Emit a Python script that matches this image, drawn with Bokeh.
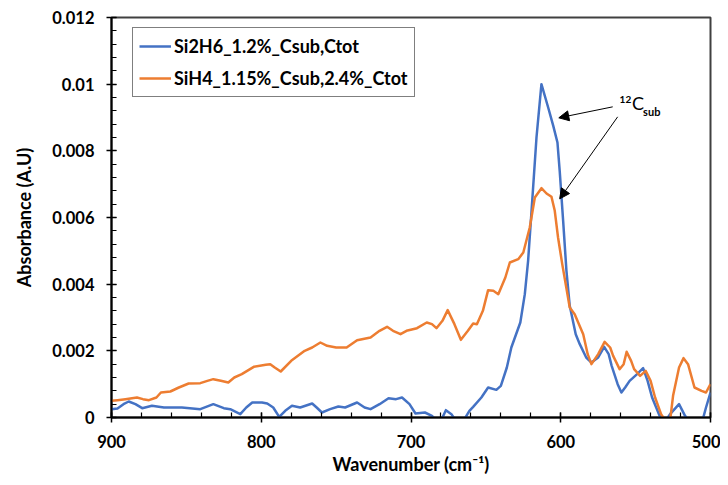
from bokeh.plotting import figure
from bokeh.models import Range1d, FixedTicker, Legend, LegendItem, Label, Arrow, NormalHead
from bokeh.embed import file_html
from bokeh.resources import INLINE

# Si2H6 sample (blue)
si2h6_wn = [900, 896, 892, 888.5, 884, 879.5, 873, 865, 853, 840.7, 832, 825, 820.7, 814, 810,
            806, 799.5, 796, 792, 788, 784, 779.5, 774, 766, 763, 759.5, 754, 748.5, 744, 736,
            731, 727, 721, 715, 710, 706, 701, 697, 690.7, 686, 683, 680, 676.7, 673, 670, 665,
            661, 658.5, 653, 648.5, 643, 640, 636, 633, 627, 624, 621.8, 619.5, 616.2, 612.9,
            608.4, 605, 602.2, 600.7, 598.4, 596.2, 594, 590, 587.3, 583, 579.5, 575, 571, 568,
            566, 562, 559.5, 557, 554, 549, 545, 542, 539, 534, 530, 527, 521, 517, 513, 506,
            503, 500]
si2h6_abs = [0.00025, 0.00027, 0.0004, 0.00048, 0.0004, 0.00028, 0.00035, 0.0003, 0.0003, 0.00025,
             0.0004, 0.00028, 0.00025, 0.0001, 0.0003, 0.00045, 0.00045, 0.00042, 0.0003, 0.00002,
             0.0002, 0.00035, 0.0003, 0.00042, 0.0003, 0.00015, 0.00025, 0.00033, 0.0003, 0.00045,
             0.0003, 0.00025, 0.0004, 0.00058, 0.00055, 0.0006, 0.0004, 0.00012, 0.00015, 0.00005,
             -0.0001, -0.0001, 0.00022, 0.0001, -0.0001, -0.0001, 0.0002, 0.00032, 0.0006, 0.0009,
             0.00083, 0.00095, 0.0015, 0.0021, 0.00285, 0.0037, 0.0047, 0.0062, 0.0084, 0.0100,
             0.0093, 0.00875, 0.00825, 0.0074, 0.0059, 0.0044, 0.00335, 0.0025, 0.0022, 0.0018,
             0.00165, 0.0018, 0.00212, 0.0019, 0.00155, 0.0010, 0.00075, 0.0009, 0.0011, 0.0013,
             0.00148, 0.0011, 0.0006, 0.00005, -0.0001, 0.0001, 0.0004, 0.00005, -0.0002, -0.0002,
             0.0003, 0.00075]

# SiH4 sample (orange)
sih4_wn = [900, 896, 890.7, 883, 879, 875, 870, 867, 860.7, 855, 848.5, 840.7, 836, 832, 827,
           822, 818, 813, 805, 797, 794, 791, 787, 780, 771, 766, 760.5, 756, 750, 743, 736,
           727, 721, 716, 712, 707, 703, 696, 689.5, 686, 683, 679, 675.5, 671, 666.7, 662,
           658.5, 656, 652, 648.5, 645, 641.7, 637, 634, 628.4, 625, 620.7, 617.3, 612.9, 609.5,
           606.2, 604, 601.8, 599, 594, 590.7, 585, 582, 579.5, 575, 570.7, 567, 565, 560.7,
           558, 556, 553, 551, 547, 543.3, 540, 537, 533, 530, 527, 525, 521, 518, 515, 510.7,
           506, 503, 500]
sih4_abs = [0.0005, 0.00052, 0.00055, 0.0006, 0.00055, 0.00052, 0.0006, 0.00075, 0.00078, 0.0009,
            0.00102, 0.00103, 0.0011, 0.00115, 0.0011, 0.00105, 0.0012, 0.0013, 0.00152, 0.00158,
            0.0016, 0.0015, 0.00138, 0.0017, 0.0020, 0.0021, 0.00225, 0.00215, 0.0021, 0.0021,
            0.00232, 0.0024, 0.0026, 0.00272, 0.0026, 0.0025, 0.0026, 0.00268, 0.00285, 0.0028,
            0.00268, 0.0029, 0.00322, 0.0028, 0.00233, 0.0026, 0.00282, 0.0028, 0.0032, 0.00382,
            0.0038, 0.0037, 0.0042, 0.00465, 0.00475, 0.00495, 0.0057, 0.0066, 0.00688, 0.00672,
            0.00662, 0.0062, 0.0054, 0.0046, 0.0033, 0.0031, 0.0025, 0.0019, 0.0016, 0.0019,
            0.00227, 0.0021, 0.00185, 0.00145, 0.0016, 0.00197, 0.0017, 0.00145, 0.00125, 0.0014,
            0.0011, 0.0006, 0.0001, -0.0001, -0.0001, 0.00065, 0.0015, 0.00178, 0.0016, 0.0009,
            0.0008, 0.00075, 0.0010]

x_ticks = [900, 800, 700, 600, 500]
y_ticks = [0, 0.002, 0.004, 0.006, 0.008, 0.01, 0.012]
y_tick_labels = ["0", "0.002", "0.004", "0.006", "0.008", "0.01", "0.012"]

FONT = "Lato"
BLUE = "#4472C4"
ORANGE = "#ED7D31"

p = figure(width=720, height=477, x_range=Range1d(900, 500), y_range=Range1d(0, 0.012),
           output_backend="svg", toolbar_location=None,
           min_border_left=111, min_border_right=10, min_border_top=17, min_border_bottom=60)
p.grid.visible = False
p.outline_line_color = "#404040"
p.outline_line_width = 2
p.background_fill_color = "white"
p.border_fill_color = "white"

r1 = p.line(si2h6_wn, si2h6_abs, color=BLUE, line_width=2.5, line_join="round")
r2 = p.line(sih4_wn, sih4_abs, color=ORANGE, line_width=2.5, line_join="round")

p.xaxis.ticker = FixedTicker(ticks=x_ticks, minor_ticks=list(range(500, 901, 20)))
p.yaxis.ticker = FixedTicker(ticks=y_ticks, minor_ticks=[i * 0.0004 for i in range(31)])
p.yaxis.major_label_overrides = {t: s for t, s in zip(y_ticks, y_tick_labels)}

for ax in (p.xaxis, p.yaxis):
    ax.axis_line_color = "black"
    ax.axis_line_width = 2
    ax.major_tick_line_color = "black"
    ax.major_tick_line_width = 1.5
    ax.minor_tick_line_color = "black"
    ax.minor_tick_line_width = 1.2
    ax.major_tick_in = 5
    ax.major_tick_out = 5
    ax.minor_tick_in = 5
    ax.minor_tick_out = 0
    ax.major_label_text_font = FONT
    ax.major_label_text_font_style = "bold"
    ax.major_label_text_font_size = "16.5px"
    ax.major_label_text_color = "black"
    ax.axis_label_text_font = FONT
    ax.axis_label_text_font_style = "bold"
    ax.axis_label_text_font_size = "18px"
    ax.axis_label_text_color = "black"

p.xaxis.axis_label = "Wavenumber (cm⁻¹)"
p.yaxis.axis_label = "Absorbance (A.U)"
p.xaxis.major_label_standoff = 12
p.xaxis.axis_label_standoff = 2
p.yaxis.major_label_standoff = 12
p.yaxis.axis_label_standoff = 14

legend = Legend(items=[LegendItem(label="Si2H6_1.2%_Csub,Ctot", renderers=[r1]),
                       LegendItem(label="SiH4_1.15%_Csub,2.4%_Ctot", renderers=[r2])],
                location=(21, 320))
legend.label_text_font = FONT
legend.label_text_font_style = "bold"
legend.label_text_font_size = "18px"
legend.label_text_color = "black"
legend.border_line_color = "black"
legend.border_line_width = 1.2
legend.background_fill_alpha = 1
legend.padding = 6
legend.spacing = 8
legend.glyph_width = 32
legend.glyph_height = 24
legend.label_height = 24
legend.label_standoff = 3
p.add_layout(legend, "center")

# 12C_sub annotation
p.add_layout(Label(x=560.7, y=0.00944, text="12", text_font=FONT, text_font_size="10px",
                   text_font_style="bold", text_color="black"))
p.add_layout(Label(x=552.5, y=0.00911, text="C", text_font=FONT, text_font_size="18px",
                   text_color="black"))
p.add_layout(Label(x=545, y=0.00899, text="sub", text_font=FONT, text_font_size="11px",
                   text_font_style="bold", text_color="black"))
p.add_layout(Arrow(end=NormalHead(size=10, fill_color="black", line_color="black"),
                   x_start=565.3, y_start=0.00932, x_end=601.3, y_end=0.00899,
                   line_color="black", line_width=1))
p.add_layout(Arrow(end=NormalHead(size=10, fill_color="black", line_color="black"),
                   x_start=562, y_start=0.00902, x_end=600.7, y_end=0.00656,
                   line_color="black", line_width=1))

open("out.html", "w").write(file_html(p, INLINE))
